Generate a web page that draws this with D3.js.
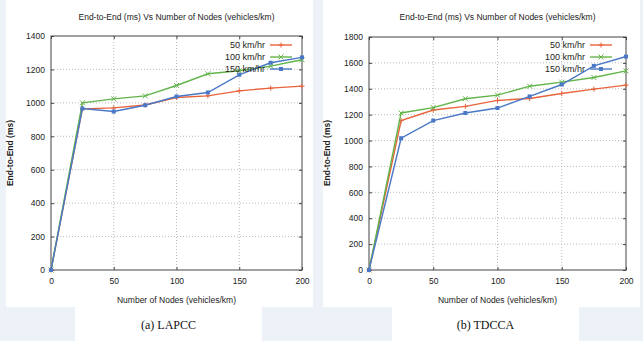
<html>
<script src='https://d3js.org/d3.v7.min.js'></script>
<style>
body { margin: 0; background: #edf1f8; }
text { font-family: 'Liberation Sans', Arial, sans-serif; fill: #222; }
.cap { font-family: 'Liberation Serif', 'Times New Roman', serif; fill: #111; }
</style>
<body>
<svg width=643 height=341></svg>
<script>
var nodes = [0, 25, 50, 75, 100, 125, 150, 175, 200];
var seriesNames = ["50 km/hr", "100 km/hr", "150 km/hr"];
var colors = ["#e8643c", "#62b44a", "#4a78c6"];

// (a) LAPCC
var lapcc50  = [0, 964, 970, 987, 1032, 1042, 1072, 1088, 1100];
var lapcc100 = [0, 1000, 1024, 1042, 1104, 1174, 1192, 1220, 1258];
var lapcc150 = [0, 966, 948, 986, 1038, 1062, 1168, 1240, 1272];
var lapccTicks = [0, 200, 400, 600, 800, 1000, 1200, 1400];

// (b) TDCCA
var tdcca50  = [0, 1154, 1236, 1264, 1310, 1325, 1364, 1397, 1428];
var tdcca100 = [0, 1213, 1254, 1323, 1351, 1420, 1451, 1487, 1538];
var tdcca150 = [0, 1018, 1154, 1213, 1251, 1341, 1433, 1577, 1649];
var tdccaTicks = [0, 200, 400, 600, 800, 1000, 1200, 1400, 1600, 1800];

var xTicks = [0, 50, 100, 150, 200];

var svg = d3.select("svg");

function drawPanel(p) {
  // white panel + caption box
  svg.append("rect").attr("x", p.px).attr("y", 0).attr("width", p.pw).attr("height", 307)
     .attr("fill", "#fff");
  svg.append("rect").attr("x", p.cx).attr("y", 307).attr("width", p.cw).attr("height", 34)
     .attr("fill", "#fff");

  var x = d3.scaleLinear().domain([0, 200]).range([p.left, p.right]);
  var y = d3.scaleLinear().domain([0, p.ymax]).range([270, p.top]);
  var g = svg.append("g");

  // grid
  g.selectAll(".gy").data(p.yTicks.slice(1, -1)).enter().append("line")
    .attr("x1", p.left).attr("x2", p.right)
    .attr("y1", function(d) { return y(d); }).attr("y2", function(d) { return y(d); })
    .attr("stroke", "#aaa").attr("stroke-width", 0.8).attr("stroke-dasharray", "1,2");
  g.selectAll(".gx").data(xTicks.slice(1, -1)).enter().append("line")
    .attr("y1", p.top).attr("y2", 270)
    .attr("x1", function(d) { return x(d); }).attr("x2", function(d) { return x(d); })
    .attr("stroke", "#aaa").attr("stroke-width", 0.8).attr("stroke-dasharray", "1,2");

  // axes (ticks inside, mirrored)
  var fmt = d3.format("d");
  g.append("g").attr("transform", "translate(" + p.left + ",0)")
    .call(d3.axisLeft(y).tickValues(p.yTicks).tickSize(-3).tickPadding(6).tickFormat(fmt))
    .call(function(a) { a.select(".domain").remove(); a.selectAll("text").attr("font-size", 8.5).attr("font-family", "Liberation Sans").attr("fill", "#111"); });
  g.append("g").attr("transform", "translate(" + p.right + ",0)")
    .call(d3.axisRight(y).tickValues(p.yTicks).tickSize(-3).tickFormat(""))
    .call(function(a) { a.select(".domain").remove(); });
  g.append("g").attr("transform", "translate(0,270)")
    .call(d3.axisBottom(x).tickValues(xTicks).tickSize(-3).tickPadding(8).tickFormat(fmt))
    .call(function(a) { a.select(".domain").remove(); a.selectAll("text").attr("font-size", 8.5).attr("font-family", "Liberation Sans").attr("fill", "#111"); });
  g.append("g").attr("transform", "translate(0," + p.top + ")")
    .call(d3.axisTop(x).tickValues(xTicks).tickSize(-3).tickFormat(""))
    .call(function(a) { a.select(".domain").remove(); });
  g.selectAll(".tick line").attr("stroke", "#444");

  g.append("rect").attr("x", p.left).attr("y", p.top)
    .attr("width", p.right - p.left).attr("height", 270 - p.top)
    .attr("fill", "none").attr("stroke", "#444").attr("stroke-width", 1);

  // series
  var line = d3.line().x(function(d, i) { return x(nodes[i]); }).y(function(d) { return y(d); });
  p.series.forEach(function(vals, k) {
    g.append("path").datum(vals).attr("d", line)
      .attr("fill", "none").attr("stroke", colors[k]).attr("stroke-width", 1.4);
    vals.forEach(function(v, i) {
      drawMarker(g, k, x(nodes[i]), y(v));
    });
  });

  // legend
  seriesNames.forEach(function(name, k) {
    var ly = 45 + k * 12;
    g.append("text").attr("x", p.legX).attr("y", ly).attr("dy", "0.35em")
      .attr("text-anchor", "end").attr("font-size", 9).text(name);
    g.append("line").attr("x1", p.legX + 5).attr("x2", p.legX + 27)
      .attr("y1", ly).attr("y2", ly).attr("stroke", colors[k]).attr("stroke-width", 1.4);
    drawMarker(g, k, p.legX + 16, ly);
  });

  // titles
  var mid = (p.left + p.right) / 2;
  g.append("text").attr("x", mid).attr("y", 17).attr("dy", "0.35em")
    .attr("text-anchor", "middle").attr("font-size", 8.5).text("End-to-End (ms) Vs Number of Nodes (vehicles/km)");
  g.append("text").attr("x", mid).attr("y", 300).attr("dy", "0.35em")
    .attr("text-anchor", "middle").attr("font-size", 8.5).text("Number of Nodes (vehicles/km)");
  g.append("text").attr("transform", "translate(" + (p.px + 4) + ",153) rotate(-90)")
    .attr("dy", "0.35em").attr("text-anchor", "middle").attr("font-size", 8.5)
    .attr("font-weight", "bold").attr("fill", "#333").text("End-to-End (ms)");
  g.append("text").attr("class", "cap").attr("x", p.cx + p.cw / 2).attr("y", 325).attr("dy", "0.35em")
    .attr("text-anchor", "middle").attr("font-size", 12).text(p.caption);
}

function drawMarker(g, k, cx, cy) {
  var s = 2.5;
  if (k === 0) {
    g.append("path").attr("d", "M" + (cx - s) + "," + cy + "h" + 2 * s + "M" + cx + "," + (cy - s) + "v" + 2 * s)
      .attr("stroke", colors[k]).attr("stroke-width", 1);
  } else if (k === 1) {
    g.append("path").attr("d", "M" + (cx - s) + "," + (cy - s) + "l" + 2 * s + "," + 2 * s + "M" + (cx - s) + "," + (cy + s) + "l" + 2 * s + "," + (-2 * s))
      .attr("stroke", colors[k]).attr("stroke-width", 1);
  } else {
    g.append("rect").attr("x", cx - 2).attr("y", cy - 2).attr("width", 4).attr("height", 4)
      .attr("fill", colors[k]);
  }
}

drawPanel({ px: 6, pw: 307, cx: 75, cw: 187, left: 51, right: 302, top: 36, ymax: 1400,
  yTicks: lapccTicks, series: [lapcc50, lapcc100, lapcc150], legX: 265, caption: "(a) LAPCC" });
drawPanel({ px: 323, pw: 317, cx: 392, cw: 187, left: 369, right: 626, top: 37, ymax: 1800,
  yTicks: tdccaTicks, series: [tdcca50, tdcca100, tdcca150], legX: 585, caption: "(b) TDCCA" });
</script>
</body>
</html>
